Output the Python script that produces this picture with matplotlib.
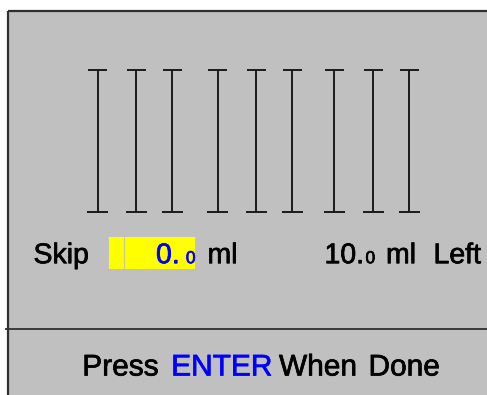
import matplotlib
matplotlib.use("Agg")
import matplotlib.pyplot as plt
from matplotlib.patches import Rectangle
import matplotlib.patheffects as pe

plt.rcParams['font.family'] = ['Liberation Sans', 'DejaVu Sans']

# ---- data (screen coordinates in pixels) ----
column_x = [97.7, 136, 172, 217.7, 256, 292, 334, 373, 409]
column_top = 69.5
column_bottom = 211.5
skip_label = "Skip"
skip_value_int = "0."
skip_value_dec = "0"
unit = "ml"
left_value_int = "10."
left_value_dec = "0"
left_words = ["ml", "Left"]
footer_words = ["Press", "ENTER", "When", "Done"]
footer_colors = ["black", "#0000ff", "black", "black"]
footer_x = [82.3, 171.2, 279.0, 368.5]

W, H = 487, 395
fig = plt.figure(figsize=(W / 100, H / 100), dpi=100)
fig.patch.set_facecolor("white")
ax = fig.add_axes([0, 0, 1, 1])
ax.set_xlim(0, W)
ax.set_ylim(H, 0)
ax.axis("off")

gray = "#c0c0c0"
edge = "#303030"
ax.add_patch(Rectangle((7.5, 10.5), W, H, facecolor=gray, edgecolor="none", zorder=0))
ax.plot([7.5, W + 5], [10.8, 10.8], color=edge, lw=1.6, solid_capstyle="butt", zorder=2)
ax.plot([7.8, 7.8], [10.5, H + 5], color=edge, lw=1.6, solid_capstyle="butt", zorder=2)
ax.plot([5, W + 5], [329, 329], color=edge, lw=1.3, solid_capstyle="butt", zorder=2)

lc = "#1a1a1a"
for x in column_x:
    ax.plot([x, x], [column_top, column_bottom], color=lc, lw=1.4, solid_capstyle="butt", zorder=3)
    ax.plot([x - 9.5, x + 9.5], [column_top, column_top], color=lc, lw=1.4, solid_capstyle="butt", zorder=3)
    ax.plot([x - 10.5, x + 10.5], [column_bottom, column_bottom], color=lc, lw=1.4, solid_capstyle="butt", zorder=3)


def txt(x, y, s, size, color, ha="left"):
    t = ax.text(x, y, s, fontsize=size, color=color, ha=ha, va="baseline", zorder=4)
    t.set_path_effects([pe.withStroke(linewidth=0.5, foreground=color)])
    return t


base = 263.2
big = 20.5
small = 12.5
txt(33.5, base, skip_label, big, "black")
ax.add_patch(Rectangle((109, 236.5), 86, 32.5, facecolor="#ffff00", edgecolor="none", zorder=3))
ax.plot([124, 124], [236.5, 269], color="#c8c8a0", lw=0.8, zorder=3.5)
txt(156, base, skip_value_int, big, "#0000ff")
txt(195.5, base, skip_value_dec, small, "#0000ff", ha="right")
txt(207.5, base, unit, big, "black")

txt(324.5, base, left_value_int, big, "black")
txt(365.5, base, left_value_dec, small, "black")
txt(386, base, left_words[0], big, "black")
txt(433.5, base, left_words[1], big, "black")

fbase = 375.5
fsize = 21.5
for w, c, x in zip(footer_words, footer_colors, footer_x):
    txt(x, fbase, w, fsize, c)

fig.savefig("out.png", dpi=100, facecolor=fig.get_facecolor())
